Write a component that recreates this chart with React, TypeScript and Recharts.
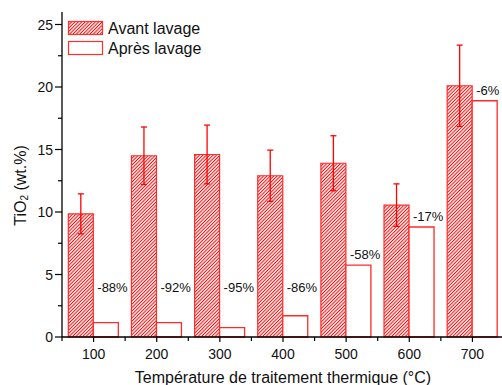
import React from "react";
import { BarChart, Bar, XAxis, YAxis, ErrorBar, LabelList } from "recharts";

const temps = ["100", "200", "300", "400", "500", "600", "700"];
const avant = [9.85, 14.5, 14.6, 12.9, 13.9, 10.55, 20.1];
const avantErr = [1.6, 2.3, 2.35, 2.05, 2.2, 1.7, 3.25];
const apres = [1.15, 1.15, 0.75, 1.7, 5.75, 8.8, 18.9];
const reduction = ["-88%", "-92%", "-95%", "-86%", "-58%", "-17%", "-6%"];
const yTicks = [0, 2.5, 5, 7.5, 10, 12.5, 15, 17.5, 20, 22.5, 25];

const FONT = "Arial, 'Liberation Sans', sans-serif";
const RED = "#ff0000";

// plot box, used for tick drawing only
const CHART_W = 520;
const MARGIN = { top: 12, right: 16, left: 0, bottom: 0 };
const Y_AXIS_W = 62;
const HALF_BAND = (CHART_W - MARGIN.right - Y_AXIS_W) / temps.length / 2;

const rows = temps.map((t, i) => ({
  temp: t,
  avant: avant[i],
  avantErr: avantErr[i],
  apres: apres[i],
  label: reduction[i],
}));

const YTick = (props: any) => {
  const { x, y, payload } = props;
  const axisX = x + 9;
  const major = payload.value % 5 === 0;
  return (
    <g>
      <line x1={axisX - (major ? 7 : 4)} x2={axisX} y1={y} y2={y} stroke="#000" strokeWidth={1.2} />
      {major && (
        <text x={x} y={y + 5} textAnchor="end" fontSize={14} fontFamily={FONT} fill="#111">
          {payload.value}
        </text>
      )}
    </g>
  );
};

const XTick = (props: any) => {
  const { x, y, payload } = props;
  return (
    <g>
      <line x1={x} x2={x} y1={y} y2={y + 5} stroke="#000" strokeWidth={1.2} />
      <line x1={x - HALF_BAND} x2={x - HALF_BAND} y1={y} y2={y + 4} stroke="#000" strokeWidth={1.2} />
      <text x={x} y={y + 22} textAnchor="middle" fontSize={14} fontFamily={FONT} fill="#111">
        {payload.value}
      </text>
    </g>
  );
};

const TopTick = (props: any) => {
  const { x, y } = props;
  return (
    <g>
      <line x1={x} x2={x} y1={y} y2={y + 3} stroke="#000" strokeWidth={1} />
      <line x1={x - HALF_BAND} x2={x - HALF_BAND} y1={y} y2={y + 3} stroke="#000" strokeWidth={1} />
    </g>
  );
};

const ReductionLabel = (props: any) => {
  const { x, y, height, value, index } = props;
  const v = apres[index];
  const zeroY = y + height;
  const perUnit = height / v;
  const cy = Math.min(y - 11, zeroY - 4 * perUnit);
  return (
    <text x={x + 4} y={cy + 5} fontSize={13} fontFamily={FONT} fill="#111">
      {value}
    </text>
  );
};

const Legend = () => (
  <svg width={160} height={45} style={{ position: "absolute", left: 66, top: 19 }}>
    <defs>
      <pattern id="hatchLeg" patternUnits="userSpaceOnUse" width="2.4" height="2.4" patternTransform="rotate(45)">
        <rect width="2.4" height="2.4" fill="#fff" />
        <line x1="1.2" y1="0" x2="1.2" y2="2.4" stroke={RED} strokeWidth="1" />
      </pattern>
    </defs>
    <rect x={2.5} y={2.5} width={34} height={13} fill="url(#hatchLeg)" stroke="#ff3030" strokeWidth={1.2} />
    <rect x={2.5} y={22.5} width={34} height={13} fill="#fff" stroke="#ff3030" strokeWidth={1.2} />
    <text x={42} y={15} fontSize={16} fontFamily={FONT} fill="#111">Avant lavage</text>
    <text x={42} y={35} fontSize={16} fontFamily={FONT} fill="#111">Après lavage</text>
  </svg>
);

export default function App() {
  return (
    <div style={{ position: "absolute", left: 0, top: 0, width: 502, height: 385, overflow: "hidden", background: "#fff" }}>
      <BarChart
        width={CHART_W}
        height={385}
        data={rows}
        margin={MARGIN}
        barCategoryGap="10%"
        barGap={0}
      >
        <defs>
          <pattern id="hatch" patternUnits="userSpaceOnUse" width="2.4" height="2.4" patternTransform="rotate(45)">
            <rect width="2.4" height="2.4" fill="#fff" />
            <line x1="1.2" y1="0" x2="1.2" y2="2.4" stroke={RED} strokeWidth="1" />
          </pattern>
        </defs>
        <XAxis
          dataKey="temp"
          height={48}
          tickLine={false}
          tickSize={0}
          tickMargin={0}
          axisLine={{ stroke: "#000", strokeWidth: 1.3 }}
          tick={<XTick />}
          interval={0}
          label={{
            content: (p: any) => (
              <text
                x={p.viewBox.x + p.viewBox.width / 2}
                y={p.viewBox.y + 46}
                textAnchor="middle"
                fontSize={16}
                fontFamily={FONT}
                fill="#111"
              >
                Température de traitement thermique (°C)
              </text>
            ),
          }}
        />
        <XAxis
          xAxisId="top"
          dataKey="temp"
          orientation="top"
          height={0}
          tickLine={false}
          tickSize={0}
          tickMargin={0}
          axisLine={{ stroke: "#000", strokeWidth: 1.3 }}
          tick={<TopTick />}
          interval={0}
        />
        <YAxis
          width={Y_AXIS_W}
          domain={[0, 26]}
          ticks={yTicks}
          interval={0}
          tickLine={false}
          tickSize={0}
          tickMargin={9}
          axisLine={{ stroke: "#000", strokeWidth: 1.3 }}
          tick={<YTick />}
          label={{
            content: (p: any) => {
              const cx = 20;
              const cy = p.viewBox.y + p.viewBox.height / 2 + 11;
              return (
                <text
                  x={cx}
                  y={cy}
                  transform={`rotate(-90 ${cx} ${cy})`}
                  textAnchor="middle"
                  dominantBaseline="central"
                  fontSize={16}
                  fontFamily={FONT}
                  fill="#111"
                >
                  TiO<tspan fontSize={10} dy={4}>2</tspan>
                  <tspan dy={-4}> (wt.%)</tspan>
                </text>
              );
            },
          }}
        />
        <Bar dataKey="avant" fill="url(#hatch)" stroke="#ff2a2a" strokeWidth={1.2} isAnimationActive={false}>
          <ErrorBar dataKey="avantErr" width={3} stroke={RED} strokeWidth={1.3} direction="y" />
        </Bar>
        <Bar dataKey="apres" fill="#fff" stroke="#ff2a2a" strokeWidth={1.3} isAnimationActive={false}>
          <LabelList dataKey="label" content={<ReductionLabel />} />
        </Bar>
      </BarChart>
      <Legend />
    </div>
  );
}
